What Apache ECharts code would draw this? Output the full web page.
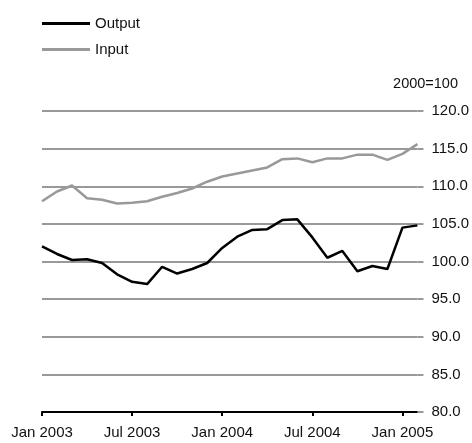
<!DOCTYPE html>
<html>
<head>
<meta charset="utf-8">
<script src="https://cdn.jsdelivr.net/npm/echarts@6/dist/echarts.min.js"></script>
<style>
  html, body { margin: 0; padding: 0; background: #fff; }
  #chart { width: 472px; height: 443px; }
</style>
</head>
<body>
<div id="chart"></div>
<script>
// meses de ene 2003 a feb 2005
var months = [
    'Jan 2003', 'Feb 2003', 'Mar 2003', 'Apr 2003', 'May 2003', 'Jun 2003',
    'Jul 2003', 'Aug 2003', 'Sep 2003', 'Oct 2003', 'Nov 2003', 'Dec 2003',
    'Jan 2004', 'Feb 2004', 'Mar 2004', 'Apr 2004', 'May 2004', 'Jun 2004',
    'Jul 2004', 'Aug 2004', 'Sep 2004', 'Oct 2004', 'Nov 2004', 'Dec 2004',
    'Jan 2005', 'Feb 2005'
];

var outputValues = [
    102.0, 101.0, 100.2, 100.3, 99.8, 98.3,
    97.3, 97.0, 99.3, 98.4, 99.0, 99.8,
    101.8, 103.3, 104.2, 104.3, 105.5, 105.6,
    103.2, 100.5, 101.4, 98.7, 99.4, 99.0,
    104.5, 104.8
];

var inputValues = [
    108.0, 109.3, 110.1, 108.4, 108.2, 107.7,
    107.8, 108.0, 108.6, 109.1, 109.7, 110.6,
    111.3, 111.7, 112.1, 112.5, 113.6, 113.7,
    113.2, 113.7, 113.7, 114.2, 114.2, 113.5,
    114.3, 115.6
];

var tickMonths = ['Jan 2003', 'Jul 2003', 'Jan 2004', 'Jul 2004', 'Jan 2005'];

var fuente = '"Liberation Sans", Arial, Helvetica, sans-serif';

var chart = echarts.init(document.getElementById('chart'));

chart.setOption({
    animation: false,
    textStyle: { fontFamily: fuente },
    title: {
        text: '2000=100',
        right: 9,
        top: 71,
        textStyle: { fontSize: 14.5, fontWeight: 'normal', color: '#111', fontFamily: fuente }
    },
    legend: {
        orient: 'vertical',
        left: 37,
        top: 10,
        icon: 'rect',
        itemWidth: 48,
        itemHeight: 3,
        itemGap: 9,
        textStyle: { fontSize: 15, color: '#111', lineHeight: 17 },
        data: ['Output', 'Input']
    },
    grid: { left: 42, right: 53, top: 111, bottom: 31 },
    xAxis: {
        type: 'category',
        data: months,
        boundaryGap: false,
        axisLine: { lineStyle: { color: '#000', width: 2 } },
        axisTick: {
            length: 4,
            lineStyle: { color: '#000', width: 2 },
            interval: function (idx, val) { return tickMonths.indexOf(val) >= 0; }
        },
        axisLabel: {
            fontSize: 15,
            color: '#111',
            margin: 13,
            interval: function (idx, val) { return tickMonths.indexOf(val) >= 0; }
        },
        splitLine: { show: false }
    },
    yAxis: {
        type: 'value',
        position: 'right',
        min: 80,
        max: 120,
        interval: 5,
        axisLine: { show: false },
        axisTick: { show: true, length: 6, lineStyle: { color: '#999', width: 2 } },
        axisLabel: {
            fontSize: 15,
            color: '#111',
            margin: 14,
            formatter: function (v) { return v.toFixed(1); }
        },
        splitLine: { lineStyle: { color: '#999', width: 2 } }
    },
    series: [
        {
            name: 'Output',
            type: 'line',
            data: outputValues,
            symbol: 'none',
            lineStyle: { color: '#000', width: 2.5 },
            itemStyle: { color: '#000' },
            z: 3
        },
        {
            name: 'Input',
            type: 'line',
            data: inputValues,
            symbol: 'none',
            lineStyle: { color: '#999', width: 2.5 },
            itemStyle: { color: '#999' },
            z: 2
        }
    ]
});
</script>
</body>
</html>
